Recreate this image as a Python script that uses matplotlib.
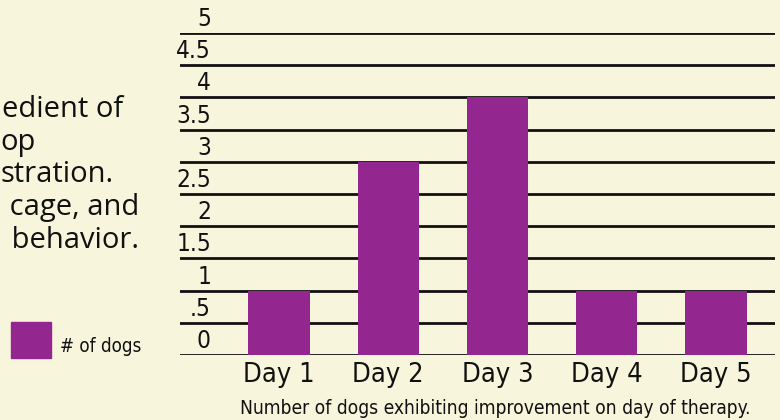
import matplotlib
matplotlib.use("Agg")
import matplotlib.pyplot as plt
import numpy as np

# chart data
days = ["Day 1", "Day 2", "Day 3", "Day 4", "Day 5"]
dog_counts = [1, 3, 4, 1, 1]
y_ticks = [0, 0.5, 1, 1.5, 2, 2.5, 3, 3.5, 4, 4.5, 5]
y_tick_labels = ["0", ".5", "1", "1.5", "2", "2.5", "3", "3.5", "4", "4.5", "5"]
side_text = ["edient of", "op", "stration.", " cage, and", " behavior."]
legend_label = "# of dogs"
caption = "Number of dogs exhibiting improvement on day of therapy."

BAR_COLOR = "#93278F"
BG_COLOR = "#F7F6DD"
NARROW = dict(family="DejaVu Sans", stretch="condensed")

W, H = 780, 420
fig = plt.figure(figsize=(W / 100, H / 100), dpi=100, facecolor=BG_COLOR)

# plot area: x 180..775 px, y 33..355 px
ax = fig.add_axes([180 / W, (H - 355) / H, 595 / W, 322 / H])
ax.set_facecolor("none")
ax.set_ylim(0, 5)
ax.set_xlim(-0.906, 4.54)
for spine in ax.spines.values():
    spine.set_visible(False)
ax.set_xticks([])
ax.set_yticks([])

for tick, label in zip(y_ticks, y_tick_labels):
    ax.axhline(tick, color="#111111", linewidth=2, zorder=1)
    ax.text(31 / 595, tick + 0.03, label, transform=ax.get_yaxis_transform(),
            ha="right", va="bottom", fontsize=17.5, color="#111111", **NARROW)

x = np.arange(len(days))
ax.bar(x, dog_counts, width=0.56, color=BAR_COLOR, zorder=2)

for xi, day in zip(x, days):
    ax.text(xi, -0.11, day, ha="center", va="top", fontsize=19.5,
            color="#111111", **NARROW)

fig.text(495 / W, 1 - 408 / H, caption, ha="center", va="center",
         fontsize=13.8, color="#111111", **NARROW)

# clipped paragraph at the left edge
side_x = [2, 0, 0, 2, 4]
for i, (line, sx) in enumerate(zip(side_text, side_x)):
    fig.text(sx / W, 1 - (117 + 32.7 * i) / H, line, ha="left", va="baseline",
             fontsize=21, family=["Open Sans", "DejaVu Sans"], color="#111111")

# legend swatch
fig.patches.append(plt.Rectangle((11 / W, 1 - 358 / H), 40 / W, 36 / H,
                                 transform=fig.transFigure, color=BAR_COLOR))
fig.text(60 / W, 1 - 346 / H, legend_label, ha="left", va="center",
         fontsize=13.5, color="#111111", **NARROW)

fig.savefig("out.png", dpi=100, facecolor=BG_COLOR)
